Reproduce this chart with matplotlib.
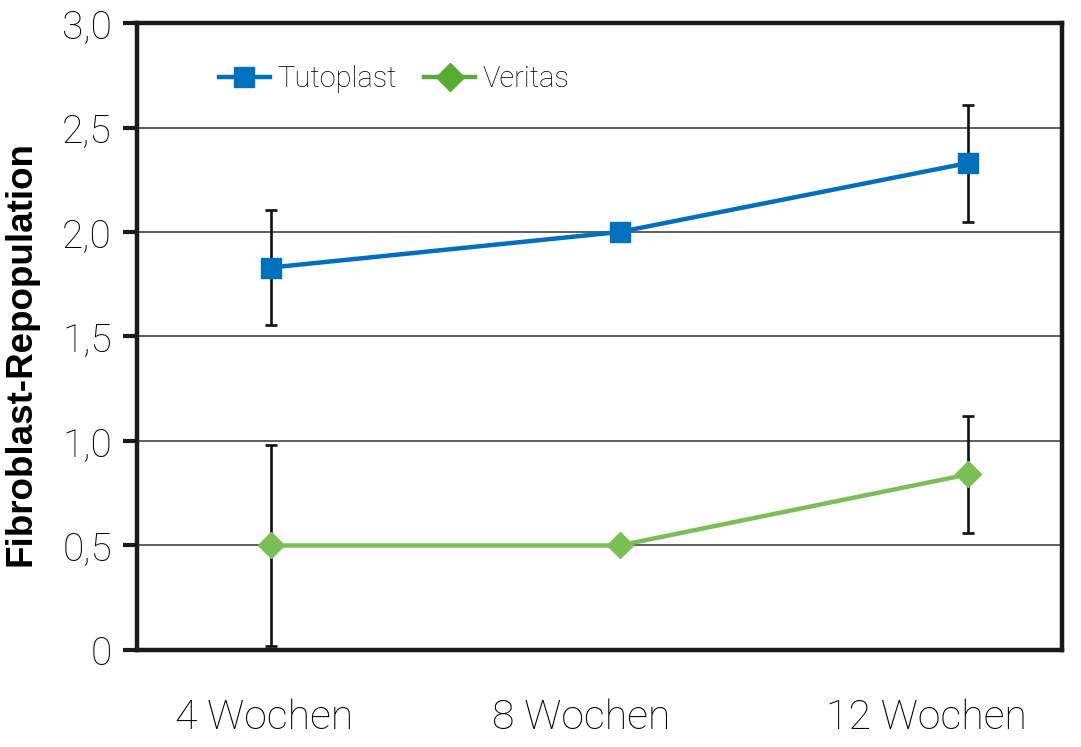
import matplotlib
matplotlib.use("Agg")
import matplotlib.pyplot as plt
from matplotlib.lines import Line2D

categories = ["4 Wochen", "8 Wochen", "12 Wochen"]
tutoplast = [1.83, 2.00, 2.33]
tutoplast_err = [0.275, 0.0, 0.28]
veritas = [0.50, 0.50, 0.84]
veritas_err = [0.48, 0.0, 0.28]
yticks = [0, 0.5, 1.0, 1.5, 2.0, 2.5, 3.0]
ytick_labels = ["0", "0,5", "1,0", "1,5", "2,0", "2,5", "3,0"]

blue = "#0070BF"
green_line = "#7CBE56"
green_leg = "#55AE33"
light_font = dict(family=["Roboto", "DejaVu Sans"], weight="light")

fig = plt.figure(figsize=(10.81, 7.47), dpi=100)
ax = fig.add_axes([0.1267, 0.1299, 0.8557, 0.8393])

x = list(range(len(categories)))

# gridlines
for y in yticks[1:-1]:
    ax.axhline(y, color="#333333", lw=1.1, zorder=1)

for xi, yi, e in zip(x, tutoplast, tutoplast_err):
    if e > 0:
        ax.errorbar(xi, yi, yerr=e, fmt="none", ecolor="#111111", elinewidth=1.9,
                    capsize=4.5, capthick=1.9, zorder=2)
for xi, yi, e in zip(x, veritas, veritas_err):
    if e > 0:
        ax.errorbar(xi, yi, yerr=e, fmt="none", ecolor="#111111", elinewidth=1.9,
                    capsize=4.5, capthick=1.9, zorder=2)

ax.plot(x, tutoplast, color=blue, lw=3.2, marker="s", ms=14.5, mec=blue, zorder=3)
ax.plot(x, veritas, color=green_line, lw=3.2, marker="D", ms=13.5, mec=green_line, zorder=3)

ax.set_xlim(-0.385, 2.27)
ax.set_ylim(0, 3.0)

ax.set_yticks(yticks)
ax.set_yticklabels(ytick_labels, **light_font, fontsize=28)
ax.tick_params(axis="y", length=10, width=3, direction="out", pad=8, color="#1a1a1a")
ax.set_xticks([-0.02, 0.89, 1.88])
ax.set_xticklabels(categories, **light_font, fontsize=29.5)
ax.tick_params(axis="x", length=0, pad=35)

for s in ax.spines.values():
    s.set_linewidth(3.2)
    s.set_color("#1a1a1a")

ax.set_ylabel("Fibroblast-Repopulation", family=["Liberation Sans", "DejaVu Sans"],
              weight="bold", fontsize=26.5)
ax.yaxis.set_label_coords(-0.106, 0.472)

handles = [
    Line2D([], [], color=blue, lw=3.2, marker="s", ms=14.5, mec=blue),
    Line2D([], [], color=green_leg, lw=3.2, marker="D", ms=14, mec=green_leg),
]
leg = ax.legend(handles, ["Tutoplast", "Veritas"], loc="upper left",
                bbox_to_anchor=(0.06, 0.975), ncol=2, frameon=False,
                handlelength=1.75, handletextpad=0.25, columnspacing=0.95,
                prop=dict(family=["Roboto", "DejaVu Sans"], weight="light", size=21))

fig.savefig("out.png", dpi=100)
